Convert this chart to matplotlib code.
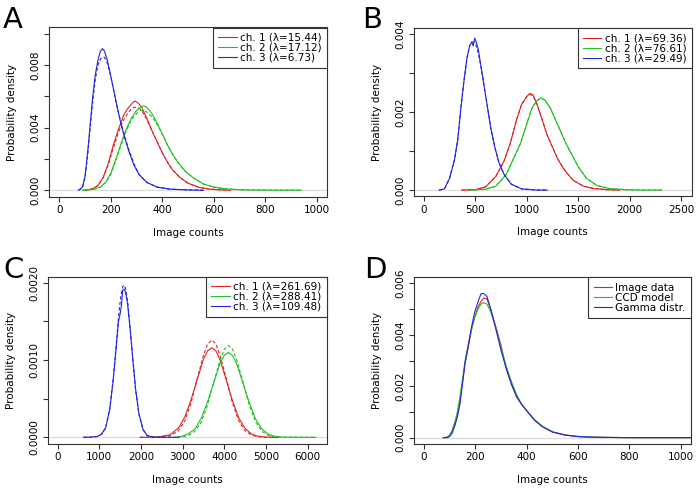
import matplotlib
matplotlib.use("Agg")
import matplotlib.pyplot as plt

# ---- panel A : low signal ----
a_blue_x = [75, 90, 100, 110, 120, 130, 140, 150, 160, 168, 175, 185, 195, 205, 215, 225, 240, 255, 270, 290, 310, 340, 380, 430, 500, 560]
a_blue_data = [0, 0.0002, 0.0009, 0.0024, 0.0042, 0.0060, 0.0074, 0.0083, 0.0089, 0.00905, 0.0089, 0.0084, 0.0077, 0.0069, 0.0061, 0.0053, 0.0042, 0.0033, 0.0025, 0.0016, 0.0010, 0.0005, 0.0002, 0.00007, 0.00002, 0]
a_blue_model = [0, 0.00015, 0.0008, 0.0022, 0.0040, 0.0057, 0.0071, 0.0080, 0.0084, 0.0085, 0.0085, 0.0082, 0.0076, 0.0069, 0.0061, 0.0053, 0.0043, 0.0034, 0.0026, 0.0017, 0.0010, 0.0005, 0.0002, 0.00007, 0.00002, 0]

a_red_x = [100, 130, 150, 170, 190, 210, 230, 250, 265, 280, 292, 305, 320, 340, 360, 380, 400, 420, 440, 470, 500, 540, 580, 620, 665]
a_red_data = [0, 0.0001, 0.0003, 0.0008, 0.0017, 0.0029, 0.0039, 0.0048, 0.0052, 0.0055, 0.0057, 0.0056, 0.0053, 0.0046, 0.0038, 0.0031, 0.0024, 0.0018, 0.0013, 0.0008, 0.00045, 0.0002, 0.00008, 0.00003, 0]
a_red_model = [0, 0.0001, 0.0003, 0.0008, 0.0016, 0.0027, 0.0037, 0.0045, 0.0049, 0.0052, 0.0053, 0.0053, 0.0051, 0.0045, 0.0038, 0.0031, 0.0024, 0.0018, 0.0013, 0.0008, 0.00045, 0.0002, 0.00008, 0.00003, 0]

a_green_x = [90, 130, 160, 180, 200, 220, 240, 260, 280, 300, 315, 328, 340, 360, 380, 400, 420, 440, 460, 490, 520, 560, 600, 650, 720, 800, 940]
a_green_data = [0, 0.00005, 0.0002, 0.0005, 0.0011, 0.0020, 0.0030, 0.0039, 0.0046, 0.0051, 0.0053, 0.0054, 0.0053, 0.0049, 0.0043, 0.0036, 0.0029, 0.0023, 0.0018, 0.0012, 0.0008, 0.0004, 0.0002, 0.00008, 0.00002, 0.00001, 0]
a_green_model = [0, 0.00005, 0.0002, 0.0005, 0.0010, 0.0019, 0.0029, 0.0038, 0.0045, 0.0049, 0.0051, 0.0051, 0.0050, 0.0047, 0.0042, 0.0036, 0.0029, 0.0023, 0.0018, 0.0012, 0.0008, 0.0004, 0.0002, 0.00008, 0.00002, 0.00001, 0]

a_labels = ["ch. 1 (λ=15.44)", "ch. 2 (λ=17.12)", "ch. 3 (λ=6.73)"]

# ---- panel B ----
b_blue_x = [150, 200, 250, 300, 330, 360, 390, 420, 445, 465, 480, 494, 510, 530, 560, 590, 620, 650, 690, 730, 780, 850, 950, 1100, 1200]
b_blue_data = [0, 0.00003, 0.0003, 0.0008, 0.0013, 0.0021, 0.0028, 0.0034, 0.0037, 0.0038, 0.0037, 0.0039, 0.0038, 0.0036, 0.0031, 0.0026, 0.0021, 0.0016, 0.0011, 0.0007, 0.0004, 0.00015, 0.00003, 0, 0]
b_blue_model = [0, 0.00003, 0.0003, 0.0008, 0.0013, 0.0021, 0.0028, 0.0034, 0.0037, 0.0038, 0.0038, 0.0038, 0.0037, 0.0035, 0.0031, 0.0026, 0.0021, 0.0016, 0.0011, 0.0007, 0.0004, 0.00015, 0.00003, 0, 0]

b_red_x = [370, 500, 600, 700, 780, 840, 900, 950, 975, 1000, 1030, 1060, 1100, 1150, 1200, 1250, 1300, 1370, 1450, 1550, 1650, 1780, 1900]
b_red_data = [0, 0.00001, 0.00008, 0.00035, 0.00075, 0.0012, 0.0018, 0.0022, 0.0023, 0.0024, 0.00248, 0.00245, 0.0022, 0.0018, 0.0014, 0.0011, 0.0008, 0.0005, 0.00025, 0.0001, 0.00004, 0.00001, 0]
b_red_model = [0, 0.00001, 0.00008, 0.00035, 0.00075, 0.0012, 0.0018, 0.0022, 0.0023, 0.0024, 0.00245, 0.00242, 0.0022, 0.0018, 0.0014, 0.0011, 0.0008, 0.0005, 0.00025, 0.0001, 0.00004, 0.00001, 0]

b_green_x = [450, 600, 700, 800, 870, 940, 1000, 1050, 1100, 1140, 1180, 1230, 1280, 1330, 1380, 1440, 1500, 1580, 1680, 1800, 1950, 2100, 2310]
b_green_data = [0, 0.00002, 0.0001, 0.0004, 0.0008, 0.0012, 0.0017, 0.0021, 0.0023, 0.00237, 0.0023, 0.0021, 0.0018, 0.0015, 0.0012, 0.0009, 0.0006, 0.0003, 0.00012, 0.00004, 0.00001, 0, 0]
b_green_model = [0, 0.00002, 0.0001, 0.0004, 0.0008, 0.0012, 0.0017, 0.0021, 0.0023, 0.00235, 0.0023, 0.0021, 0.0018, 0.0015, 0.0012, 0.0009, 0.0006, 0.0003, 0.00012, 0.00004, 0.00001, 0, 0]

b_labels = ["ch. 1 (λ=69.36)", "ch. 2 (λ=76.61)", "ch. 3 (λ=29.49)"]

# ---- panel C ----
c_blue_x = [620, 800, 950, 1050, 1150, 1250, 1330, 1400, 1460, 1500, 1530, 1560, 1595, 1630, 1680, 1740, 1800, 1870, 1950, 2050, 2150, 2300, 2500, 2700, 2900]
c_blue_data = [0, 0.000003, 0.00001, 0.00004, 0.00012, 0.00036, 0.00072, 0.00113, 0.0015, 0.0016, 0.0017, 0.0019, 0.00192, 0.00188, 0.00172, 0.0014, 0.00104, 0.00063, 0.00031, 0.0001, 0.000023, 0.000003, 0, 0, 0]
c_blue_model = [0, 0.000003, 0.00001, 0.00004, 0.00012, 0.00037, 0.00074, 0.00116, 0.00155, 0.00175, 0.00187, 0.00195, 0.00197, 0.00193, 0.00176, 0.00142, 0.00104, 0.00062, 0.0003, 0.0001, 0.000023, 0.000003, 0, 0, 0]

c_red_x = [1980, 2400, 2700, 2900, 3050, 3200, 3350, 3500, 3600, 3700, 3800, 3900, 4050, 4200, 4350, 4500, 4650, 4800, 5000, 5200, 5300]
c_red_data = [0, 0.000003, 0.000034, 0.00012, 0.00026, 0.00048, 0.00075, 0.00101, 0.00112, 0.00116, 0.00112, 0.001, 0.00074, 0.00047, 0.00025, 0.000115, 0.000045, 0.000015, 0.000003, 0, 0]
c_red_model = [0, 0.000001, 0.000019, 0.000085, 0.00021, 0.00044, 0.00076, 0.00106, 0.00121, 0.00126, 0.00121, 0.00106, 0.00076, 0.00044, 0.00021, 0.000085, 0.000029, 0.000008, 0.000001, 0, 0]

c_green_x = [2880, 3000, 3150, 3300, 3450, 3600, 3750, 3900, 4000, 4100, 4200, 4300, 4450, 4600, 4750, 4900, 5050, 5200, 5400, 5800, 6200]
c_green_data = [0.000006, 0.000015, 0.00005, 0.00011, 0.00025, 0.00046, 0.00071, 0.00096, 0.00106, 0.0011, 0.00106, 0.00095, 0.0007, 0.00045, 0.00024, 0.00011, 0.000043, 0.000014, 0.000003, 0, 0]
c_green_model = [0.000002, 0.000006, 0.000025, 0.00008, 0.0002, 0.00042, 0.00072, 0.001, 0.00114, 0.00119, 0.00114, 0.001, 0.00072, 0.00042, 0.0002, 0.00008, 0.000027, 0.000008, 0.000001, 0, 0]

c_labels = ["ch. 1 (λ=261.69)", "ch. 2 (λ=288.41)", "ch. 3 (λ=109.48)"]

# ---- panel D : data vs models ----
d_x = [75, 90, 100, 110, 120, 130, 140, 152, 160, 172, 185, 198, 211, 222, 232, 245, 260, 283, 300, 320, 340, 360, 380, 400, 430, 460, 500, 550, 600, 650, 700, 800, 900, 1060]
d_image = [0, 0, 0.00008, 0.00025, 0.00055, 0.0009, 0.0014, 0.0023, 0.0029, 0.0035, 0.0042, 0.0047, 0.0051, 0.0053, 0.00543, 0.0054, 0.0050, 0.0042, 0.0036, 0.0027, 0.0021, 0.0016, 0.0013, 0.00105, 0.0007, 0.00045, 0.00022, 0.0001, 0.00004, 0.00002, 0.00001, 0, 0, 0]
d_ccd = [0, 0.00003, 0.0001, 0.0003, 0.0006, 0.001, 0.0016, 0.0024, 0.003, 0.0036, 0.0042, 0.0047, 0.0050, 0.0052, 0.00525, 0.0052, 0.0049, 0.0042, 0.0035, 0.0028, 0.0022, 0.0017, 0.0013, 0.00105, 0.0007, 0.00045, 0.00023, 0.0001, 0.00005, 0.00002, 0.00001, 0, 0, 0]
d_gamma = [0, 0, 0.00004, 0.00018, 0.00045, 0.0008, 0.0013, 0.00225, 0.0029, 0.00355, 0.0043, 0.0049, 0.0053, 0.0056, 0.00561, 0.0055, 0.0050, 0.0041, 0.0034, 0.0027, 0.0021, 0.0016, 0.0013, 0.00105, 0.00068, 0.00043, 0.00022, 0.0001, 0.00004, 0.00002, 0.00001, 0, 0, 0]
d_labels = ["Image data", "CCD model", "Gamma distr."]

RED, GREEN, BLUE = "#e02424", "#22c022", "#2424e0"
EDGE = "#333333"
W, H = 697, 490

plt.rcParams["font.family"] = "DejaVu Sans"
plt.rcParams["font.size"] = 7.5

fig = plt.figure(figsize=(W / 100, H / 100), dpi=100)


def make_axes(box, xlim, ylim, xticks, yticks, ylabels):
    left, top, right, bottom = box
    ax = fig.add_axes([left / W, 1 - bottom / H, (right - left) / W, (bottom - top) / H])
    ax.set_xlim(xlim)
    ax.set_ylim(ylim)
    ax.set_xticks(xticks)
    ax.set_yticks(yticks)
    ax.set_yticklabels(ylabels, rotation=90, va="center")
    ax.tick_params(direction="out", length=3.6, width=0.8, color=EDGE, pad=2.5)
    for s in ax.spines.values():
        s.set_color(EDGE)
        s.set_linewidth(0.8)
    ax.axhline(0, color="#dddddd", lw=1, zorder=0)
    ax.set_xlabel("Image counts", va="center")
    ax.set_ylabel("Probability density", va="center")
    ax.xaxis.set_label_coords(0.5, -36 / (bottom - top))
    ax.yaxis.set_label_coords(-37 / (right - left), 0.5)
    return ax


def add_legend(ax):
    leg = ax.legend(loc="upper right", bbox_to_anchor=(1, 1), borderaxespad=0,
                    fancybox=False, edgecolor=EDGE, framealpha=1, fontsize=7.5,
                    handlelength=1.75, handletextpad=0.35, labelspacing=0,
                    borderpad=0.5)
    leg.get_frame().set_linewidth(0.8)


def draw_channels(ax, series, labels):
    for (x, data, model, col), lab in zip(series, labels):
        ax.plot(x, data, color=col, lw=0.8, label=lab)
        ax.plot(x, model, color=col, lw=0.8, ls=(0, (3, 2)))


# A
ax = make_axes((49, 27.5, 327, 196.5), (-40, 1040), (-0.0004, 0.0104),
               range(0, 1001, 200), [0, 0.002, 0.004, 0.006, 0.008, 0.010],
               ["0.000", "", "0.004", "", "0.008", ""])
draw_channels(ax, [(a_red_x, a_red_data, a_red_model, RED),
                   (a_green_x, a_green_data, a_green_model, GREEN),
                   (a_blue_x, a_blue_data, a_blue_model, BLUE)], a_labels)
add_legend(ax)

# B
ax = make_axes((413.5, 28, 691.5, 196.3), (-100, 2600), (-0.00016, 0.00416),
               range(0, 2501, 500), [0, 0.001, 0.002, 0.003, 0.004],
               ["0.000", "", "0.002", "", "0.004"])
draw_channels(ax, [(b_red_x, b_red_data, b_red_model, RED),
                   (b_green_x, b_green_data, b_green_model, GREEN),
                   (b_blue_x, b_blue_data, b_blue_model, BLUE)], b_labels)
add_legend(ax)

# C
ax = make_axes((48.3, 276.7, 326.7, 443.5), (-225, 6460), (-0.00008, 0.00208),
               range(0, 6001, 1000), [0, 0.0005, 0.0010, 0.0015, 0.0020],
               ["0.0000", "", "0.0010", "", "0.0020"])
draw_channels(ax, [(c_red_x, c_red_data, c_red_model, RED),
                   (c_green_x, c_green_data, c_green_model, GREEN),
                   (c_blue_x, c_blue_data, c_blue_model, BLUE)], c_labels)
add_legend(ax)

# D
ax = make_axes((413.7, 277.3, 691, 443.8), (-40, 1040), (-0.00024, 0.00624),
               range(0, 1001, 200), [0, 0.001, 0.002, 0.003, 0.004, 0.005, 0.006],
               ["0.000", "", "0.002", "", "0.004", "", "0.006"])
ax.plot(d_x, d_image, color=RED, lw=0.8, label=d_labels[0])
ax.plot(d_x, d_ccd, color=GREEN, lw=0.8, label=d_labels[1])
ax.plot(d_x, d_gamma, color=BLUE, lw=0.8, label=d_labels[2])
add_legend(ax)

# panel letters
for letter, (px, py) in zip("ABCD", [(3, 28), (362, 28), (3, 278), (364, 278)]):
    fig.text(px / W, 1 - py / H, letter, fontsize=21, ha="left", va="baseline")

fig.savefig("out.png", dpi=100)
